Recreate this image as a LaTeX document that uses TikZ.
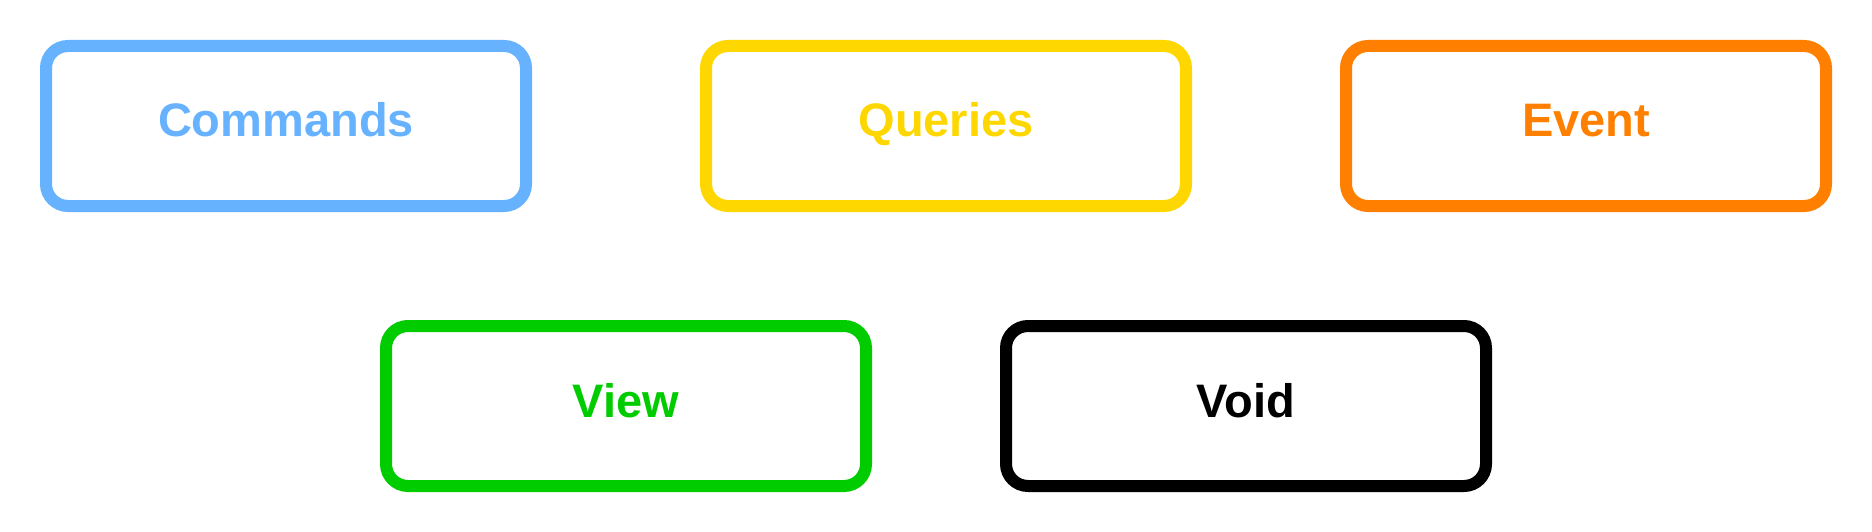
\documentclass[tikz,border=0pt]{standalone}
\usepackage{fontspec}
\setmainfont{Liberation Sans}
\usepackage{tikz}
\definecolor{cmdblue}{HTML}{66B2FF}
\definecolor{qrygold}{HTML}{FFD700}
\definecolor{evtorange}{HTML}{FF8000}
\definecolor{viewgreen}{HTML}{00CC00}
\tikzset{msgbox/.style={draw,rectangle,rounded corners=22pt,line width=12pt,
		minimum width=480pt,minimum height=160pt,inner sep=0pt,outer sep=0pt,
		text height=34pt,text depth=12pt,
		font=\fontsize{47}{56}\selectfont\bfseries}}

\begin{document}
\begin{tikzpicture}
	[x=1pt,y=-1pt]
	\useasboundingbox (0,0) rectangle (1872,532);
	\node [msgbox,draw=cmdblue,text=cmdblue] (cmd) at (286,126) {Commands};
	\node [msgbox,draw=qrygold,text=qrygold] (qry) at (946,126) {Queries};
	\node [msgbox,draw=evtorange,text=evtorange] (evt) at (1586,126) {Event};
	\node [msgbox,draw=viewgreen,text=viewgreen] (view) at (626,406) {View};
	\node [msgbox,draw=black,text=black] (void) at (1246,406) {Void};
\end{tikzpicture}
\end{document}
